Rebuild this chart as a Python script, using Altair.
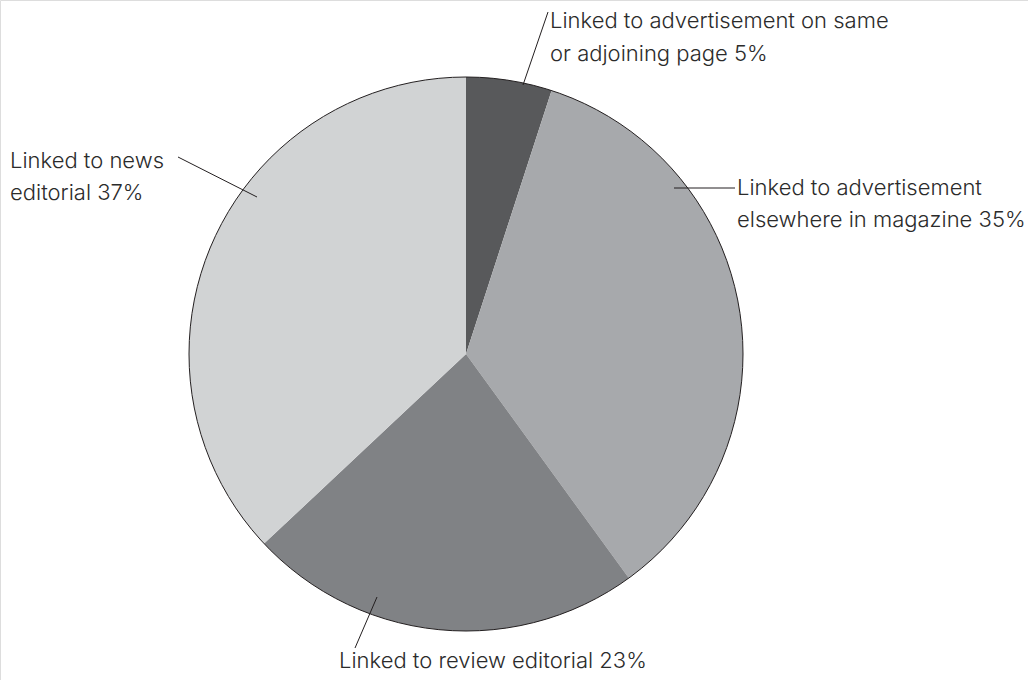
import altair as alt
import pandas as pd

# Data
categories = [
    "Linked to advertisement on same or adjoining page",
    "Linked to advertisement elsewhere in magazine",
    "Linked to review editorial",
    "Linked to news editorial",
]
shares = [5, 35, 23, 37]
colors = ["#58595b", "#a7a9ac", "#808285", "#d1d3d4"]

label_lines = [
    "Linked to advertisement on same",
    "or adjoining page 5%",
    "Linked to advertisement",
    "elsewhere in magazine 35%",
    "Linked to review editorial 23%",
    "Linked to news",
    "editorial 37%",
]

W, H = 1028, 680
CX, CY, R = 466, 354, 277

pie_df = pd.DataFrame({"category": categories, "share": shares, "order": list(range(len(shares)))})

# label layout (pixel positions, text baselines)
label_x = [550, 550, 737, 737, 339, 10, 10]
label_y = [28, 61, 195, 227, 668, 168, 200]
labels_df = pd.DataFrame({"text": label_lines, "lx": label_x, "ly": label_y})

leader_df = pd.DataFrame({
    "x1": [548, 674, 377, 178],
    "y1": [12, 188, 597, 157],
    "x2": [523, 735, 355, 257],
    "y2": [85, 188, 648, 197],
})

xs = alt.Scale(domain=[0, W], range=[0, W])
ys = alt.Scale(domain=[0, H], range=[0, H])

pie = alt.Chart(pie_df).mark_arc(strokeWidth=0).encode(
    theta=alt.Theta("share:Q", stack=True),
    order=alt.Order("order:Q"),
    color=alt.Color("category:N", scale=alt.Scale(domain=categories, range=colors), legend=None),
    x=alt.value(CX),
    y=alt.value(CY),
    radius=alt.value(R),
)

outline = alt.Chart(pd.DataFrame({"full": [1]})).mark_arc(
    fillOpacity=0, stroke="#231f20", strokeWidth=1
).encode(
    theta=alt.Theta("full:Q", scale=alt.Scale(domain=[0, 1])),
    x=alt.value(CX),
    y=alt.value(CY),
    radius=alt.value(R),
)

leaders = alt.Chart(leader_df).mark_rule(color="#231f20", strokeWidth=1).encode(
    x=alt.X("x1:Q", scale=xs, axis=None),
    y=alt.Y("y1:Q", scale=ys, axis=None),
    x2="x2:Q",
    y2="y2:Q",
)

texts = alt.Chart(labels_df).mark_text(
    align="left", baseline="alphabetic", font="Inter", fontWeight=300, fontSize=22, color="#2b2b2b"
).encode(
    x=alt.X("lx:Q", scale=xs, axis=None),
    y=alt.Y("ly:Q", scale=ys, axis=None),
    text="text:N",
)

chart = alt.layer(pie, outline, leaders, texts).resolve_scale(theta="independent").properties(
    width=W, height=H, padding=0, autosize=alt.AutoSizeParams(type="none")
).configure_view(stroke=None).configure(background="white")

chart.save("out.html", embed_options={"renderer": "svg", "actions": False})
